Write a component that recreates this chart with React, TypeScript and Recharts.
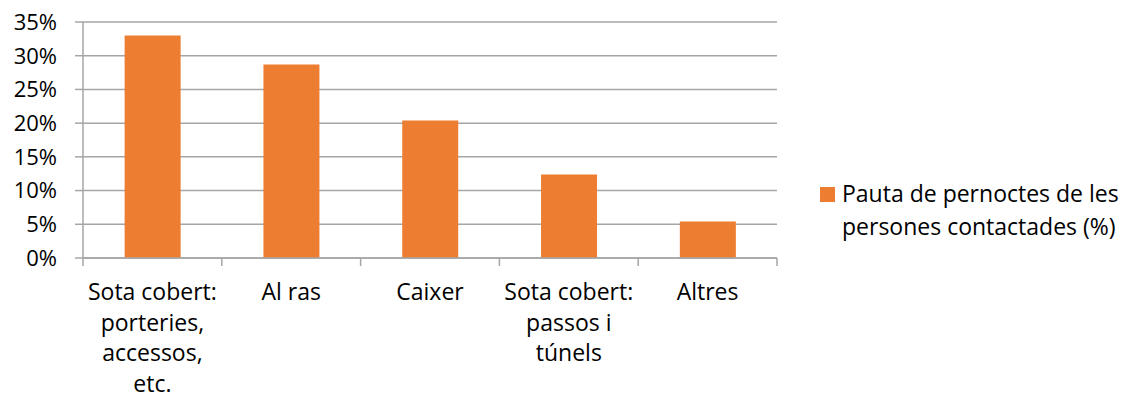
import { Bar, BarChart, CartesianGrid, Legend, XAxis, YAxis } from "recharts";

// category labels, already broken into the lines they are drawn on
const categoryLines = [
  ["Sota cobert:", "porteries,", "accessos,", "etc."],
  ["Al ras"],
  ["Caixer"],
  ["Sota cobert:", "passos i", "túnels"],
  ["Altres"],
];
const shares = [33, 28.7, 20.4, 12.4, 5.4];
const yTicks = [0, 5, 10, 15, 20, 25, 30, 35];
const seriesName = "Pauta de pernoctes de les persones contactades (%)";
const legendLines = ["Pauta de pernoctes de les", "persones contactades (%)"];

const ORANGE = "#ED7D31";
const GRID = "#A6A6A6";
const FONT = "'Open Sans', sans-serif";

const data = categoryLines.map((lines, i) => ({ name: lines.join(" "), value: shares[i] }));

// label plus the tick marks on the category boundaries (left edge, and right edge for the last one)
function CategoryTick(props: any) {
  const { x, y, index, width, visibleTicksCount } = props;
  const lines = categoryLines[index] || [];
  const half = width / visibleTicksCount / 2;
  const last = index === visibleTicksCount - 1;
  return (
    <g>
      <line x1={x - half} x2={x - half} y1={y} y2={y + 8} stroke={GRID} strokeWidth={1.5} />
      {last && <line x1={x + half} x2={x + half} y1={y} y2={y + 8} stroke={GRID} strokeWidth={1.5} />}
      {lines.map((line, i) => (
        <text key={i} x={x} y={y + 42 + i * 30.6} textAnchor="middle" fontSize={23} fill="#000" fontFamily={FONT}>
          {line}
        </text>
      ))}
    </g>
  );
}

function LegendBox() {
  return (
    <div style={{ display: "flex", alignItems: "flex-start", fontFamily: FONT, fontSize: 23, color: "#000" }}>
      <span style={{ width: 15, height: 15, background: ORANGE, marginTop: 10, marginRight: 7, flex: "none" }} />
      <div style={{ lineHeight: "33px", whiteSpace: "nowrap" }}>
        {legendLines.map((l) => (
          <div key={l}>{l}</div>
        ))}
      </div>
    </div>
  );
}

export default function App() {
  return (
    <div style={{ position: "absolute", left: 0, top: 0, width: 1128, height: 399, background: "#fff" }}>
      <BarChart
        width={1128}
        height={399}
        data={data}
        margin={{ top: 22, right: 351, bottom: 0, left: 0 }}
        barCategoryGap="30%"
      >
        <CartesianGrid vertical={false} stroke={GRID} strokeWidth={1.5} />
        <XAxis
          dataKey="name"
          height={141}
          axisLine={{ stroke: GRID, strokeWidth: 1.5 }}
          tickLine={false}
          tickSize={0}
          tickMargin={0}
          interval={0}
          tick={<CategoryTick />}
        />
        <YAxis
          width={83}
          domain={[0, 35]}
          ticks={yTicks}
          tickFormatter={(v) => `${v}%`}
          tickSize={8}
          tickMargin={18}
          axisLine={{ stroke: GRID, strokeWidth: 1.5 }}
          tickLine={{ stroke: GRID, strokeWidth: 1.5 }}
          tick={{ fill: "#000", fontSize: 22, fontFamily: FONT }}
        />
        <Legend
          layout="vertical"
          align="center"
          verticalAlign="middle"
          wrapperStyle={{ left: 820, top: 177, width: 308 }}
          content={<LegendBox />}
        />
        <Bar dataKey="value" name={seriesName} fill={ORANGE} isAnimationActive={false} />
      </BarChart>
    </div>
  );
}
